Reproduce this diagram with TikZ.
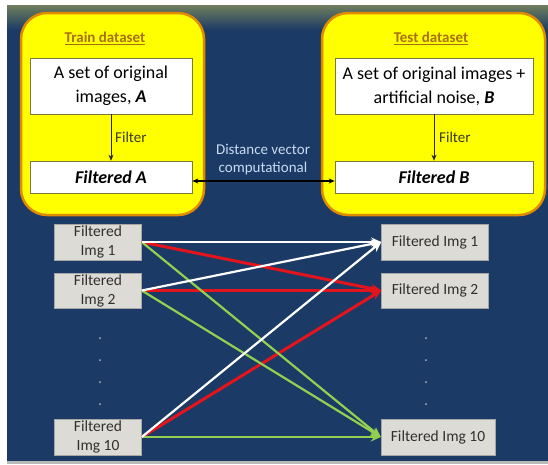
\documentclass[tikz,border=0pt]{standalone}
\usepackage{fontspec}
\setmainfont{Carlito}
\usetikzlibrary{arrows.meta}
\definecolor{navy}{HTML}{1B3B66}
\definecolor{topgreen}{HTML}{6E7E5C}
\definecolor{ybox}{HTML}{FFFF00}
\definecolor{yedge}{HTML}{E08A00}
\definecolor{titlecol}{HTML}{A8700E}
\definecolor{wedge}{HTML}{7A7A40}
\definecolor{filtcol}{HTML}{3A3A28}
\definecolor{distcol}{HTML}{C8DAF0}
\definecolor{imgfill}{HTML}{DDDBD6}
\definecolor{imgtext}{HTML}{303030}
\definecolor{redarr}{HTML}{E3141C}
\definecolor{greenarr}{HTML}{92D050}
\tikzset{
  yellowbox/.style={fill=ybox, draw=yedge, line width=2.5pt, rounded corners=26pt},
  whitebox/.style={draw=wedge, line width=0.6pt, fill=white, align=center, inner sep=0pt,
     font=\fontsize{18}{24}\selectfont},
  title/.style={text=titlecol, font=\fontsize{15}{18}\selectfont\bfseries},
  filterarrow/.style={draw=black!85, line width=0.7pt, -{Stealth[length=6pt,width=5pt]}},
  filterlabel/.style={text=filtcol, font=\fontsize{15}{17}\selectfont, anchor=west, inner sep=0pt},
  imgbox/.style={fill=imgfill, draw=gray!70, line width=0.5pt, text=imgtext, align=center,
     inner sep=0pt, minimum height=36pt, font=\fontsize{15.5}{19}\selectfont},
  conn/.style={line width=2.2pt, -{Stealth[length=10pt,width=9pt]}},
  dotmark/.style={fill=gray!60, draw=none}
}
\begin{document}
\begin{tikzpicture}[x=1pt,y=-1pt]
\useasboundingbox (0,0) rectangle (548,464);
% background panel
\fill[navy] (7,5) rectangle (548,461);
\shade[top color=topgreen, bottom color=navy] (7,5) rectangle (548,30);
\fill[gray!55] (7,461) rectangle (548,464);

% yellow containers
\draw[yellowbox] (21,13) rectangle (204,215);
\draw[yellowbox] (322,13) rectangle (545,215);

\node[title] (trainT) at (105,38) {\underline{Train dataset}};
\node[title] (testT) at (431,38) {\underline{Test dataset}};

\node[whitebox, minimum width=162pt, minimum height=56pt] (topA) at (111,86)
  {A set of original\\ images, \textbf{\textit{A}}};
\node[whitebox, minimum width=198pt, minimum height=56pt] (topB) at (434,86)
  {A set of original images +\\ artificial noise, \textbf{\textit{B}}};
\node[whitebox, minimum width=162pt, minimum height=32pt] (filtA) at (111,177)
  {\textbf{\textit{Filtered A}}};
\node[whitebox, minimum width=198pt, minimum height=32pt] (filtB) at (434,177)
  {\textbf{\textit{Filtered B}}};

\draw[filterarrow] (topA) -- (filtA);
\draw[filterarrow] (topB) -- (filtB);
\node[filterlabel] (flA) at (115,137) {Filter};
\node[filterlabel] (flB) at (439,137) {Filter};

\draw[line width=1.3pt, {Stealth[length=6pt,width=5pt]}-{Stealth[length=6pt,width=5pt]}]
  ([yshift=-4pt]filtA.east) -- ([yshift=-4pt]filtB.west);
\node[text=distcol, align=center, font=\fontsize{15}{18}\selectfont] (dist) at (263,160)
  {Distance vector\\ computational};

% image boxes
\node[imgbox, minimum width=87pt] (L1) at (98,242) {Filtered\\ Img 1};
\node[imgbox, minimum width=87pt, minimum height=35pt] (L2) at (98,290.5) {Filtered\\ Img 2};
\node[imgbox, minimum width=87pt] (L10) at (98,437) {Filtered\\ Img 10};
\node[imgbox, minimum width=107pt] (R1) at (435,242) {Filtered Img 1};
\node[imgbox, minimum width=107pt, minimum height=35pt] (R2) at (435,290.5) {Filtered Img 2};
\node[imgbox, minimum width=114pt] (R10) at (438,437) {Filtered Img 10};

% dots
\foreach \yy in {338,360,382,404} {
  \fill[dotmark] (100,\yy) circle (1pt);
  \fill[dotmark] (426,\yy) circle (1pt);
}

% connectors
\draw[conn, redarr, line width=3pt] (L1.east) -- (R2.west);
\draw[conn, redarr, line width=3pt] (L2.east) -- (R2.west);
\draw[conn, redarr, line width=3pt] (L10.east) -- (R2.west);
\draw[conn, greenarr] (L1.east) -- (R10.west);
\draw[conn, greenarr] (L2.east) -- (R10.west);
\draw[conn, greenarr] (L10.east) -- (R10.west);
\draw[conn, white] (L1.east) -- (R1.west);
\draw[conn, white] (L2.east) -- (R1.west);
\draw[conn, white] (L10.east) -- (R1.west);
\end{tikzpicture}
\end{document}
